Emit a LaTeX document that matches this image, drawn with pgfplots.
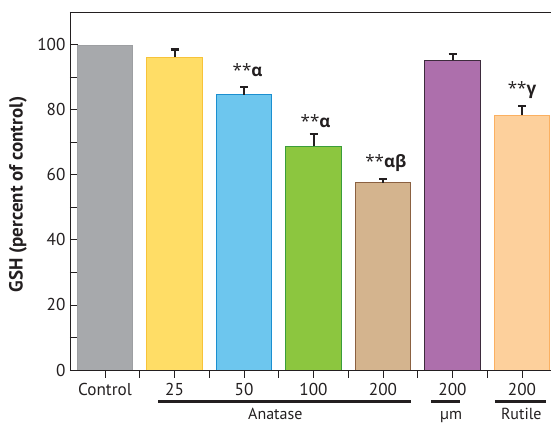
\documentclass[border=0pt]{standalone}
\usepackage{pgfplots}
\pgfplotsset{compat=1.18}
\usepackage{fontspec}
\setmainfont{PT Sans}
\newfontfamily\grk{Open Sans}
\usetikzlibrary{calc}

\definecolor{cgray}{HTML}{A7A9AC}
\definecolor{cgrayE}{HTML}{9D9FA2}
\definecolor{cyel}{HTML}{FFDD66}
\definecolor{cyelE}{HTML}{F7C33A}
\definecolor{cblue}{HTML}{6DC6EE}
\definecolor{cblueE}{HTML}{1B8FD0}
\definecolor{cgreen}{HTML}{8CC63F}
\definecolor{cgreenE}{HTML}{3A9D3A}
\definecolor{ctan}{HTML}{D4B48E}
\definecolor{ctanE}{HTML}{8B6141}
\definecolor{cpur}{HTML}{AD6FAC}
\definecolor{cpurE}{HTML}{3D2B3D}
\definecolor{cpeach}{HTML}{FDD09C}
\definecolor{cpeachE}{HTML}{FBB061}
\definecolor{ink}{HTML}{231F20}

\begin{document}
\begin{tikzpicture}
\begin{axis}[
  scale only axis, width=481pt, height=358pt,
  xmin=-0.504, xmax=6.417, ymin=0, ymax=110,
  axis line style={draw=none},
  ytick={0,20,...,100}, minor ytick={10,30,...,90},
  xtick={0,...,6}, xticklabels={Control,25,50,100,200,200,200},
  extra x ticks={0.5,1.5,2.5,3.5,4.5,5.5}, extra x tick labels={},
  extra x tick style={major tick length=8pt},
  tick align=inside, major tick length=8pt, minor tick length=8pt,
  tick style={ink, line width=0.8pt},
  ytick pos=left, xtick pos=bottom,
  clip=false,
  ybar, bar width=0.8, bar shift=0pt,
  /pgf/number format/assume math mode=true,
  tick label style={font=\fontsize{17.2}{18}\selectfont, text=ink},
  xticklabel style={yshift=-1.5pt},
  yticklabel style={xshift=-1pt},
  ylabel={\bfseries GSH (percent of control)},
  ylabel style={at={(axis description cs:-0.108,0.49)}, anchor=center, font=\fontsize{19}{20}\selectfont, text=ink},
  error bars/y dir=plus, error bars/y explicit,
  error bars/error bar style={ink, line width=2pt},
  error bars/error mark options={rotate=90, mark size=4pt, line width=2.2pt, ink},
]
\addplot[fill=cgray, draw=cgrayE, line width=0.8pt, error bars/y dir=none] coordinates {(0,99.6)};
\addplot[fill=cyel, draw=cyelE, line width=0.8pt] coordinates {(1,96.1) +- (0,2.4)};
\addplot[fill=cblue, draw=cblueE, line width=0.8pt] coordinates {(2,84.6) +- (0,2.4)};
\addplot[fill=cgreen, draw=cgreenE, line width=0.8pt] coordinates {(3,68.7) +- (0,3.8)};
\addplot[fill=ctan, draw=ctanE, line width=0.8pt] coordinates {(4,57.6) +- (0,1.1)};
\addplot[fill=cpur, draw=cpurE, line width=0.8pt] coordinates {(5,95.1) +- (0,2.1)};
\addplot[fill=cpeach, draw=cpeachE, line width=0.8pt] coordinates {(6,78.2) +- (0,2.8)};

\draw[ink, line width=0.9pt] (rel axis cs:0,1) -- (rel axis cs:0,0) -- (rel axis cs:1,0);
\draw[ink, line width=0.9pt] (rel axis cs:0,1) -- (rel axis cs:1,1);

\node[anchor=base, font=\fontsize{17}{18}\selectfont, text=ink, inner sep=0pt] at (axis cs:2.05,90.2) {\grk **\bfseries α};
\node[anchor=base, font=\fontsize{17}{18}\selectfont, text=ink, inner sep=0pt] at (axis cs:3.03,74.4) {\grk **\bfseries α};
\node[anchor=base, font=\fontsize{17}{18}\selectfont, text=ink, inner sep=0pt] at (axis cs:4.04,62.1) {\grk **\bfseries αβ};
\node[anchor=base, font=\fontsize{17}{18}\selectfont, text=ink, inner sep=0pt] at (axis cs:6.0,84.6) {\grk **\bfseries γ};

\draw[ink, line width=2.6pt] (axis cs:0.763,-9.7) -- (axis cs:4.396,-9.7);
\draw[ink, line width=2.6pt] (axis cs:4.69,-9.7) -- (axis cs:5.108,-9.7);
\draw[ink, line width=2.6pt] (axis cs:5.61,-9.7) -- (axis cs:6.345,-9.7);
\node[font=\fontsize{16}{18}\selectfont, text=ink, anchor=base, inner sep=0pt] at (axis cs:2.45,-15.2) {Anatase};
\node[font=\fontsize{16}{18}\selectfont, text=ink, anchor=base, inner sep=0pt] at (axis cs:4.98,-15.2) {µm};
\node[font=\fontsize{16}{18}\selectfont, text=ink, anchor=base, inner sep=0pt] at (axis cs:5.99,-15.2) {Rutile};

\coordinate (bl) at (rel axis cs:0,0);
\coordinate (tr) at (rel axis cs:1,1);
\end{axis}
\pgfresetboundingbox
\path[use as bounding box] ($(bl)+(-70pt,-53pt)$) rectangle ($(tr)+(0pt,12pt)$);
\end{tikzpicture}
\end{document}
